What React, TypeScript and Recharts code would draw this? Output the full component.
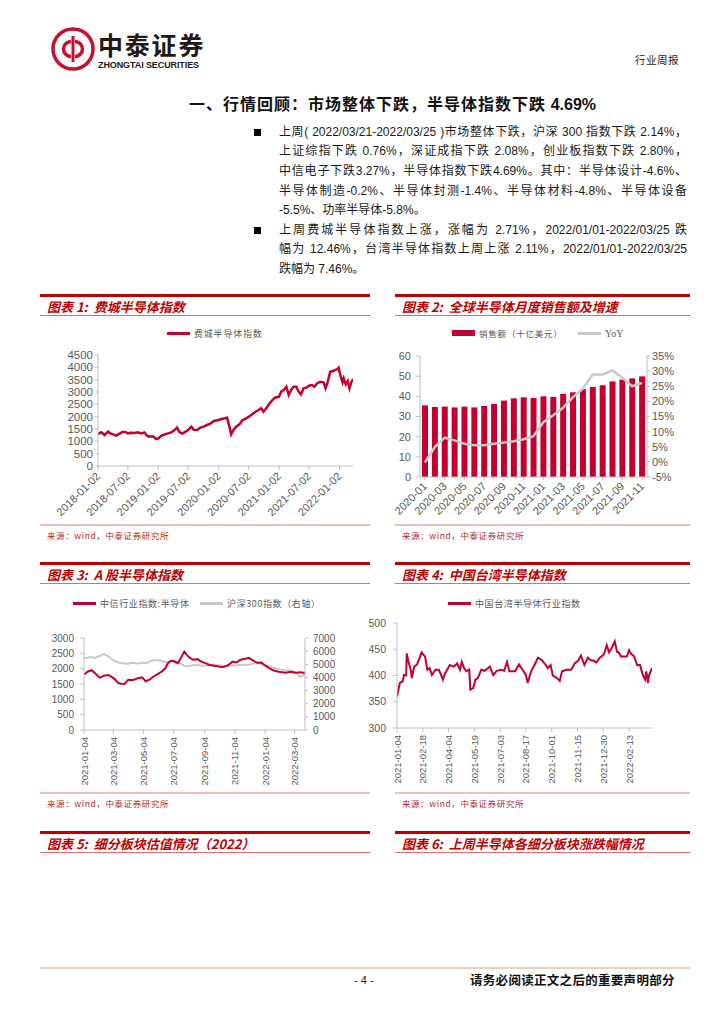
import React from 'react';
import { LineChart, Line, XAxis, YAxis, ComposedChart, Bar } from 'recharts';

const RED = '#C3002F';
const GREY_LINE = '#C9C9C9';
const AXIS = '#BFBFBF';
const TICK = '#595959';
const LATIN = '"Liberation Sans", Arial, "Noto Sans CJK SC", sans-serif';
const CJK = '"Noto Sans CJK SC", "Liberation Sans", sans-serif';

// 图表1 费城半导体指数
const soxDates = [
  '2018-01-02', '2018-01-22', '2018-02-11', '2018-03-04', '2018-03-18', '2018-04-03', '2018-04-23', '2018-05-13',
  '2018-06-02', '2018-06-22', '2018-07-02', '2018-07-22', '2018-08-11', '2018-08-31', '2018-09-20', '2018-10-10',
  '2018-10-25', '2018-11-10', '2018-11-30', '2018-12-20', '2019-01-02', '2019-01-21', '2019-02-10', '2019-03-02',
  '2019-03-22', '2019-04-11', '2019-04-25', '2019-05-11', '2019-05-27', '2019-06-16', '2019-07-01', '2019-07-21',
  '2019-08-04', '2019-08-24', '2019-09-13', '2019-10-03', '2019-10-24', '2019-11-13', '2019-12-03', '2020-01-02',
  '2020-01-20', '2020-02-09', '2020-02-22', '2020-03-05', '2020-03-18', '2020-04-01', '2020-04-17', '2020-05-07',
  '2020-05-27', '2020-06-17', '2020-07-03', '2020-07-23', '2020-08-12', '2020-09-01', '2020-09-15', '2020-09-29',
  '2020-10-16', '2020-11-01', '2020-11-17', '2020-12-07', '2021-01-02', '2021-01-14', '2021-01-30', '2021-02-15',
  '2021-03-01', '2021-03-15', '2021-03-31', '2021-04-16', '2021-04-30', '2021-05-14', '2021-05-30', '2021-06-15',
  '2021-07-02', '2021-07-20', '2021-08-03', '2021-08-19', '2021-09-08', '2021-09-28', '2021-10-10', '2021-10-22',
  '2021-11-07', '2021-11-23', '2021-12-07', '2021-12-21', '2021-12-28', '2022-01-10', '2022-01-21', '2022-01-28',
  '2022-02-09', '2022-02-21', '2022-03-04', '2022-03-14', '2022-03-25',
];
const soxValues = [
  1300, 1365, 1257, 1390, 1324, 1283, 1230, 1310,
  1390, 1365, 1324, 1351, 1338, 1365, 1324, 1365,
  1230, 1189, 1202, 1094, 1121, 1230, 1283, 1324,
  1365, 1459, 1554, 1365, 1310, 1391, 1459, 1594,
  1472, 1459, 1554, 1594, 1662, 1716, 1824, 1864,
  1905, 1932, 1959, 1662, 1283, 1459, 1594, 1689,
  1864, 1932, 2000, 2094, 2202, 2270, 2337, 2202,
  2337, 2499, 2634, 2770, 2810, 3013, 3080, 3215,
  2878, 3080, 3215, 3215, 3013, 2905, 3148, 3175,
  3256, 3283, 3215, 3350, 3418, 3391, 3148, 3391,
  3823, 3850, 3891, 3931, 3985, 3620, 3391, 3553,
  3310, 3445, 3148, 3391, 3526,
];
const soxTicks = ['2018-01-02', '2018-07-02', '2019-01-02', '2019-07-02', '2020-01-02', '2020-07-02', '2021-01-02', '2021-07-02', '2022-01-02'];
const soxYTicks = [0, 500, 1000, 1500, 2000, 2500, 3000, 3500, 4000, 4500];

// 图表2 全球半导体月度销售额及增速
const salesMonths = [
  '2020-01', '2020-02', '2020-03', '2020-04', '2020-05', '2020-06', '2020-07', '2020-08', '2020-09', '2020-10', '2020-11', '2020-12',
  '2021-01', '2021-02', '2021-03', '2021-04', '2021-05', '2021-06', '2021-07', '2021-08', '2021-09', '2021-10', '2021-11',
];
const salesValues = [35.5, 34.7, 34.9, 34.5, 34.9, 34.5, 35.2, 36.2, 37.9, 39.0, 39.5, 39.2, 40.0, 39.7, 41.2, 42.0, 43.6, 44.6, 45.5, 47.4, 48.3, 48.9, 49.9];
const yoyValues = [-0.2, 4.9, 8.0, 7.1, 6.0, 5.5, 5.5, 6.0, 6.4, 6.8, 7.5, 8.5, 13.1, 15.4, 17.9, 21.4, 24.2, 28.9, 28.9, 30.2, 27.8, 25.0, 26.1];
const salesTicks = [0, 10, 20, 30, 40, 50, 60];
const yoyTicks = [-5, 0, 5, 10, 15, 20, 25, 30, 35];

// 图表3 A股半导体指数
const aDates = [
  '2021-01-04', '2021-01-11', '2021-01-19', '2021-01-26', '2021-02-05', '2021-02-13', '2021-02-22', '2021-02-28',
  '2021-03-07', '2021-03-14', '2021-03-20', '2021-03-27', '2021-04-03', '2021-04-13', '2021-04-23', '2021-05-01',
  '2021-05-08', '2021-05-16', '2021-05-24', '2021-06-02', '2021-06-10', '2021-06-17', '2021-06-22', '2021-06-28',
  '2021-07-05', '2021-07-12', '2021-07-18', '2021-07-25', '2021-07-30', '2021-08-05', '2021-08-12', '2021-08-21',
  '2021-08-27', '2021-09-05', '2021-09-13', '2021-09-23', '2021-10-02', '2021-10-10', '2021-10-20', '2021-10-30',
  '2021-11-07', '2021-11-15', '2021-11-24', '2021-12-02', '2021-12-10', '2021-12-19', '2021-12-27', '2022-01-04',
  '2022-01-12', '2022-01-21', '2022-01-31', '2022-02-14', '2022-02-24', '2022-03-06', '2022-03-16', '2022-03-25',
];
const citicSemi = [
  1800, 1900, 1950, 1860, 1700, 1770, 1790, 1740,
  1660, 1530, 1510, 1500, 1640, 1630, 1690, 1720,
  1590, 1640, 1745, 1830, 1910, 2020, 2180, 2260,
  2240, 2180, 2350, 2560, 2450, 2350, 2290, 2310,
  2240, 2180, 2130, 2095, 2070, 2050, 2100, 2230,
  2200, 2290, 2320, 2350, 2270, 2190, 2200, 2100,
  2020, 1940, 1900, 1870, 1900, 1870, 1880, 1860,
];
const hs300 = [
  5470, 5500, 5550, 5480, 5650, 5780, 5600, 5420,
  5250, 5140, 5090, 5060, 5040, 5120, 5050, 5130,
  5090, 5200, 5300, 5320, 5230, 5150, 5180, 5220,
  5120, 5100, 5040, 4900, 4840, 4880, 4920, 4940,
  4900, 4890, 4900, 4950, 4930, 4890, 4910, 4880,
  4920, 4950, 4960, 4960, 5050, 5080, 5040, 4950,
  4880, 4730, 4630, 4520, 4550, 4380, 4020, 4250,
];
const aTicks = ['2021-01-04', '2021-03-04', '2021-05-04', '2021-07-04', '2021-09-04', '2021-11-04', '2022-01-04', '2022-03-04'];
const aLeftTicks = [0, 500, 1000, 1500, 2000, 2500, 3000];
const aRightTicks = [0, 1000, 2000, 3000, 4000, 5000, 6000, 7000];

// 图表4 中国台湾半导体指数
const twDates = [
  '2021-01-04', '2021-01-06', '2021-01-09', '2021-01-14', '2021-01-16', '2021-01-20', '2021-01-21', '2021-01-24',
  '2021-01-28', '2021-01-30', '2021-02-03', '2021-02-08', '2021-02-16', '2021-02-22', '2021-02-26', '2021-03-02',
  '2021-03-06', '2021-03-12', '2021-03-18', '2021-03-22', '2021-03-25', '2021-03-29', '2021-04-06', '2021-04-13',
  '2021-04-19', '2021-04-24', '2021-04-27', '2021-05-01', '2021-05-05', '2021-05-10', '2021-05-12', '2021-05-17',
  '2021-05-21', '2021-05-25', '2021-05-31', '2021-06-06', '2021-06-15', '2021-06-21', '2021-06-27', '2021-07-04',
  '2021-07-10', '2021-07-15', '2021-07-19', '2021-07-29', '2021-08-05', '2021-08-11', '2021-08-17', '2021-08-20',
  '2021-08-26', '2021-09-01', '2021-09-07', '2021-09-14', '2021-09-20', '2021-09-24', '2021-09-29', '2021-10-03',
  '2021-10-09', '2021-10-15', '2021-10-19', '2021-10-27', '2021-11-04', '2021-11-10', '2021-11-16', '2021-11-21',
  '2021-11-27', '2021-12-03', '2021-12-08', '2021-12-13', '2021-12-18', '2021-12-24', '2021-12-31', '2022-01-05',
  '2022-01-09', '2022-01-14', '2022-01-19', '2022-01-23', '2022-01-26', '2022-01-30', '2022-02-09', '2022-02-13',
  '2022-02-16', '2022-02-22', '2022-02-27', '2022-03-04', '2022-03-09', '2022-03-13', '2022-03-15', '2022-03-18',
  '2022-03-20', '2022-03-25',
];
const twValues = [
  360, 370, 386, 389, 401, 400, 442, 426,
  411, 395, 417, 421, 444, 436, 411, 414,
  401, 411, 411, 401, 392, 404, 420, 417,
  423, 411, 426, 414, 408, 411, 373, 376,
  392, 395, 411, 409, 417, 401, 409, 411,
  409, 426, 408, 408, 421, 411, 401, 386,
  408, 420, 434, 429, 421, 414, 420, 400,
  396, 390, 408, 411, 411, 423, 428, 438,
  420, 434, 429, 428, 425, 434, 440, 458,
  444, 453, 465, 445, 444, 436, 436, 448,
  442, 436, 420, 420, 401, 392, 408, 386,
  401, 414,
];
const twTicks = ['2021-01-04', '2021-02-18', '2021-04-04', '2021-05-19', '2021-07-03', '2021-08-17', '2021-10-01', '2021-11-15', '2021-12-30', '2022-02-13'];
const twYTicks = [300, 350, 400, 450, 500];

const summaryLines = [
  '上周( 2022/03/21-2022/03/25 )市场整体下跌，沪深 300 指数下跌 2.14%，',
  '上证综指下跌 0.76%，深证成指下跌 2.08%，创业板指数下跌 2.80%，',
  '中信电子下跌3.27%，半导体指数下跌4.69%。其中：半导体设计-4.6%、',
  '半导体制造-0.2%、半导体封测-1.4%、半导体材料-4.8%、半导体设备',
  '-5.5%、功率半导体-5.8%。',
  '上周费城半导体指数上涨，涨幅为 2.71%，2022/01/01-2022/03/25 跌',
  '幅为 12.46%，台湾半导体指数上周上涨 2.11%，2022/01/01-2022/03/25',
  '跌幅为 7.46%。',
];
const paragraphEnds = [4, 7];

const toT = (s: string) => Date.parse(s + 'T00:00:00Z');
const fmtDate = (t: number) => new Date(t).toISOString().slice(0, 10);

const soxRows = soxDates.map((d, i) => ({ t: toT(d), v: soxValues[i] }));
const salesRows = salesMonths.map((m, i) => ({ m, sales: salesValues[i], yoy: yoyValues[i] }));
const aRows = aDates.map((d, i) => ({ t: toT(d), citic: citicSemi[i], hs: hs300[i] }));
const twRows = twDates.map((d, i) => ({ t: toT(d), v: twValues[i] }));

const SlantTick = (props: any) => {
  const { x, y, payload, angle, size, label } = props;
  const text = label ? label(payload.value) : payload.value;
  return (
    <text x={x} y={y} transform={`rotate(${angle} ${x} ${y})`} textAnchor="end" dominantBaseline="central"
      fontSize={size} fontFamily={LATIN} fill={TICK}>{text}</text>
  );
};

const pos = (left: number, top: number, extra: React.CSSProperties = {}): React.CSSProperties => ({ position: 'absolute', left, top, ...extra });

// column boxes
const COL_L = 40;
const COL_R = 395;
const COL_W = 330;
const COL_RW = 295;

const TitleBlock: React.FC<{ left: number; width: number; top: number; title: string }> = ({ left, width, top, title }) => (
  <>
    <div style={pos(left, top - 1.5, { width, height: 3, background: '#C00000' })} />
    <div style={pos(left + 7, top + 4, { fontFamily: CJK, fontSize: 13, fontWeight: 700, fontStyle: 'italic', color: '#C00000', lineHeight: '16px', whiteSpace: 'pre' })}>{title}</div>
    <div style={pos(left, top + 20, { width, height: 1, background: '#E06C6C' })} />
  </>
);

const Source: React.FC<{ left: number; top: number; width: number }> = ({ left, top, width }) => (
  <>
    <div style={pos(left, top - 11, { width, height: 2, background: '#F3BDBA' })} />
    <div style={pos(left + 7, top - 6, { fontFamily: CJK, fontSize: 8.5, letterSpacing: 0.6, color: '#B02A2A', lineHeight: '12px' })}>来源：wind，中泰证券研究所</div>
  </>
);

const LegendItem: React.FC<{ left: number; top: number; color: string; kind: 'line' | 'bar'; text: string; size?: number; spacing?: number; font?: string }> = ({ left, top, color, kind, text, size = 9, spacing = 0.6, font = CJK }) => (
  <div style={pos(left, top - 7, { display: 'flex', alignItems: 'center', height: 14 })}>
    <div style={{ width: 23, height: kind === 'bar' ? 6 : 3, background: color, marginRight: 4 }} />
    <span style={{ fontFamily: font, fontSize: size, letterSpacing: spacing, color: TICK, whiteSpace: 'nowrap' }}>{text}</span>
  </div>
);

const yTick = (size: number) => ({ fontSize: size, fill: TICK, fontFamily: LATIN });

const Header = () => (
  <>
    <svg width="46" height="46" viewBox="0 0 46 46" style={pos(50, 26)}>
      <circle cx="23" cy="23" r="20" fill="none" stroke="#C8102E" strokeWidth="3.5" />
      <path d="M23 10 V36" stroke="#C8102E" strokeWidth="3" />
      <path d="M21 15.5 A7.5 7.5 0 1 0 21 30.5" fill="none" stroke="#C8102E" strokeWidth="3.5" />
      <path d="M25 15.5 A7.5 7.5 0 1 1 25 30.5" fill="none" stroke="#C8102E" strokeWidth="3.5" />
    </svg>
    <div style={pos(98, 32, { fontFamily: CJK, fontSize: 25, fontWeight: 700, letterSpacing: 1.8, color: '#231916', lineHeight: '25px', height: 25 })}>中泰证券</div>
    <div style={pos(98, 61, { fontFamily: LATIN, fontSize: 9, fontWeight: 700, letterSpacing: -0.1, color: '#231916', lineHeight: '9px' })}>ZHONGTAI SECURITIES</div>
    <div style={pos(635, 53, { fontFamily: CJK, fontSize: 10.5, letterSpacing: 0.5, color: '#222', lineHeight: '14px' })}>行业周报</div>
    <div style={pos(189, 93, { fontFamily: CJK, fontSize: 16, fontWeight: 700, letterSpacing: 1, color: '#111', lineHeight: '20px', whiteSpace: 'nowrap' })}>
      一、行情回顾：市场整体下跌，半导体指数下跌 <span style={{ fontFamily: LATIN, letterSpacing: 0 }}>4.69%</span>
    </div>
  </>
);

const Summary = () => {
  const lh = 19.6;
  const top0 = 122.7;
  return (
    <>
      {summaryLines.map((s, i) => (
        <div key={i} style={pos(279, top0 + i * lh, {
          width: 408, height: lh, lineHeight: lh + 'px', fontSize: 12, fontFamily: LATIN, color: '#1a1a1a',
          textAlign: 'justify', textAlignLast: paragraphEnds.includes(i) ? 'left' : 'justify',
        })}>{s}</div>
      ))}
      {[0, 5].map((i) => (
        <div key={'b' + i} style={pos(254, top0 + i * lh + lh / 2 - 3.5, { width: 7, height: 7, background: '#000' })} />
      ))}
    </>
  );
};

const SoxChart = () => (
  <div style={pos(40, 340)}>
    <LineChart width={330} height={185} data={soxRows} margin={{ top: 15, right: 17, bottom: 4, left: 0 }}>
      <XAxis type="number" dataKey="t" domain={[toT('2018-01-02'), toT('2022-03-25')]} ticks={soxTicks.map(toT)} interval={0}
        height={55} tickSize={4} tickMargin={4} stroke={AXIS} allowDataOverflow
        tick={(p: any) => <SlantTick {...p} angle={-45} size={11} label={fmtDate} />} />
      <YAxis domain={[0, 4500]} ticks={soxYTicks} interval={0} width={58} tickSize={3} tickMargin={2} stroke={AXIS} tick={yTick(11.5)} />
      <Line type="linear" dataKey="v" stroke={RED} strokeWidth={2.5} dot={false} isAnimationActive={false} />
    </LineChart>
  </div>
);

const SalesChart = () => (
  <div style={pos(370, 340)}>
    <ComposedChart width={320} height={185} data={salesRows} margin={{ top: 16, right: 0, bottom: 3, left: 0 }}>
      <XAxis dataKey="m" interval={1} height={45} tickSize={3} tickMargin={4} stroke={AXIS}
        tick={(p: any) => <SlantTick {...p} angle={-45} size={11} />} />
      <YAxis yAxisId="left" domain={[0, 60]} ticks={salesTicks} interval={0} width={50} tickSize={4} tickMargin={5} stroke={AXIS} tick={yTick(11)} />
      <YAxis yAxisId="right" orientation="right" domain={[-5, 35]} ticks={yoyTicks} interval={0} width={43} tickSize={3} tickMargin={2}
        stroke={AXIS} tick={yTick(11)} tickFormatter={(v: number) => v + '%'} />
      <Bar yAxisId="left" dataKey="sales" fill={RED} barSize={6} isAnimationActive={false} />
      <Line yAxisId="right" type="linear" dataKey="yoy" stroke={GREY_LINE} strokeWidth={2.5} dot={false} isAnimationActive={false} />
    </ComposedChart>
  </div>
);

const AShareChart = () => (
  <div style={pos(40, 615)}>
    <LineChart width={320} height={178} data={aRows} margin={{ top: 23, right: 10, bottom: 3, left: 0 }}>
      <XAxis type="number" dataKey="t" domain={[toT('2021-01-04'), toT('2022-03-25')]} ticks={aTicks.map(toT)} interval={0}
        height={60} tickSize={4} tickMargin={3} stroke={AXIS} allowDataOverflow
        tick={(p: any) => <SlantTick {...p} angle={-90} size={9.5} label={fmtDate} />} />
      <YAxis yAxisId="left" domain={[0, 3000]} ticks={aLeftTicks} interval={0} width={44} tickSize={4} tickMargin={6} stroke={AXIS} tick={yTick(10)} />
      <YAxis yAxisId="right" orientation="right" domain={[0, 7000]} ticks={aRightTicks} interval={0} width={45} tickSize={3} tickMargin={5} stroke={AXIS} tick={yTick(10)} />
      <Line yAxisId="right" type="linear" dataKey="hs" stroke={GREY_LINE} strokeWidth={2} dot={false} isAnimationActive={false} />
      <Line yAxisId="left" type="linear" dataKey="citic" stroke={RED} strokeWidth={2} dot={false} isAnimationActive={false} />
    </LineChart>
  </div>
);

const TaiwanChart = () => (
  <div style={pos(365, 610)}>
    <LineChart width={320} height={182} data={twRows} margin={{ top: 13, right: 33, bottom: 4, left: 0 }}>
      <XAxis type="number" dataKey="t" domain={[toT('2021-01-04'), toT('2022-03-25')]} ticks={twTicks.map(toT)} interval={0}
        height={60} tickSize={4} tickMargin={3} stroke={AXIS} allowDataOverflow
        tick={(p: any) => <SlantTick {...p} angle={-90} size={9.5} label={fmtDate} />} />
      <YAxis domain={[300, 500]} ticks={twYTicks} interval={0} width={32} tickSize={4} tickMargin={7} stroke={AXIS} tick={yTick(10.5)} />
      <Line type="linear" dataKey="v" stroke={RED} strokeWidth={2} dot={false} isAnimationActive={false} />
    </LineChart>
  </div>
);

export default function App() {
  return (
    <div style={{ position: 'absolute', left: 0, top: 0, width: 724, height: 1024, background: '#fff', overflow: 'hidden', fontFamily: LATIN }}>
      <Header />
      <Summary />

      <TitleBlock left={COL_L} width={COL_W} top={295} title="图表 1:  费城半导体指数" />
      <LegendItem left={167} top={333} color={RED} kind="line" text="费城半导体指数" spacing={0.8} />
      <SoxChart />
      <Source left={COL_L} top={535} width={COL_W} />

      <TitleBlock left={COL_R} width={COL_RW} top={295} title="图表 2:  全球半导体月度销售额及增速" />
      <LegendItem left={452} top={333} color={RED} kind="bar" text="销售额（十亿美元）" size={8.5} spacing={0.8} />
      <LegendItem left={578} top={333} color={GREY_LINE} kind="line" text="YoY" size={10} spacing={0} font={'"Liberation Serif", serif'} />
      <SalesChart />
      <Source left={COL_R} top={535} width={COL_RW} />

      <TitleBlock left={COL_L} width={COL_W} top={563} title="图表 3:  A 股半导体指数" />
      <LegendItem left={73} top={603} color={RED} kind="line" text="中信行业指数:半导体" />
      <LegendItem left={200} top={603} color={GREY_LINE} kind="line" text="沪深300指数（右轴）" />
      <AShareChart />
      <Source left={COL_L} top={803} width={COL_W} />

      <TitleBlock left={COL_R} width={COL_RW} top={563} title="图表 4:  中国台湾半导体指数" />
      <LegendItem left={448} top={603} color={RED} kind="line" text="中国台湾半导体行业指数" />
      <TaiwanChart />
      <Source left={COL_R} top={803} width={COL_RW} />

      <TitleBlock left={COL_L} width={COL_W} top={832} title="图表 5:  细分板块估值情况（2022）" />
      <TitleBlock left={COL_R} width={COL_RW} top={832} title="图表 6:  上周半导体各细分板块涨跌幅情况" />

      <div style={pos(40, 967, { width: 650, height: 2, background: '#EBCDBB' })} />
      <div style={pos(354, 973, { fontFamily: LATIN, fontSize: 11, color: '#222', lineHeight: '14px' })}>- 4 -</div>
      <div style={pos(470, 972, { fontFamily: CJK, fontSize: 12.5, fontWeight: 700, letterSpacing: 0.3, color: '#111', lineHeight: '16px' })}>请务必阅读正文之后的重要声明部分</div>
    </div>
  );
}
